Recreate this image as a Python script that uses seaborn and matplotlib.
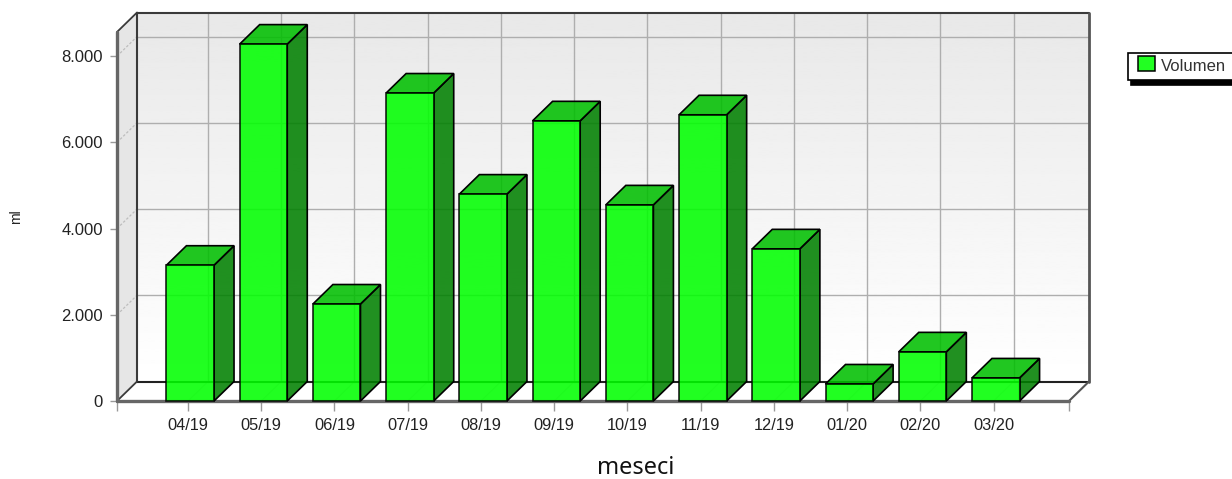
import numpy as np
import pandas as pd
import matplotlib
matplotlib.use("Agg")
import matplotlib.pyplot as plt
from matplotlib.patches import Polygon, Patch, Rectangle
from matplotlib.legend_handler import HandlerPatch
import seaborn as sns

months = ["04/19", "05/19", "06/19", "07/19", "08/19", "09/19",
          "10/19", "11/19", "12/19", "01/20", "02/20", "03/20"]
volumen = [3150, 8280, 2250, 7145, 4800, 6500, 4550, 6640, 3530, 395, 1140, 535]
y_ticks = [0, 2000, 4000, 6000, 8000]
y_labels = ["0", "2.000", "4.000", "6.000", "8.000"]
series_name = "Volumen"
x_title = "meseci"
y_title = "ml"

W, H = 1232, 479
sns.set_style("white")
plt.rcParams["font.family"] = ["Liberation Sans", "DejaVu Sans"]

fig = plt.figure(figsize=(W / 100, H / 100), dpi=100)
L, R, T, B = 117, 1069, 32, 401
ax = fig.add_axes([L / W, 1 - B / H, (R - L) / W, (B - T) / H])

df = pd.DataFrame({"mes": months, "v": volumen})
sns.barplot(data=df, x="mes", y="v", ax=ax, color="#00ff00", saturation=1,
            alpha=0.87, edgecolor="black", linewidth=1.2, width=0.65)

XMIN, XMAX = -1.0, 12.0
YMAX = 8561.0
ax.set_xlim(XMIN, XMAX)
ax.set_ylim(0, YMAX)
DX = 20 * (XMAX - XMIN) / (R - L)
DY = 19.5 * YMAX / (B - T)
TICK_SHIFT = -0.03

# back wall gradient
grad = np.linspace(232, 255, 256).reshape(-1, 1)
ax.imshow(grad, cmap="gray", vmin=0, vmax=255, aspect="auto", origin="upper",
          extent=(XMIN + DX, XMAX + DX, DY, YMAX + DY), zorder=0.1, clip_on=False)
ax.set_xlim(XMIN, XMAX)
ax.set_ylim(0, YMAX)

# left wall and floor
ax.add_patch(Polygon([(XMIN, 0), (XMIN, YMAX), (XMIN + DX, YMAX + DY), (XMIN + DX, DY)],
                     closed=True, fc="#e6e6e6", ec="none", zorder=0.2, clip_on=False))
ax.add_patch(Polygon([(XMIN, 0), (XMAX, 0), (XMAX + DX, DY), (XMIN + DX, DY)],
                     closed=True, fc="white", ec="none", zorder=0.2, clip_on=False))

# grid on the back wall, floor and left wall
grid = "#aeaeae"
for t in y_ticks[1:]:
    ax.plot([XMIN + DX, XMAX + DX], [t + DY, t + DY], color=grid, lw=1.0, zorder=0.5, clip_on=False)
    ax.plot([XMIN, XMIN + DX], [t, t + DY], color="#bdbdbd", lw=0.9, ls=(0, (2, 1.5)), zorder=0.5, clip_on=False)
for t in np.arange(0, 12) + TICK_SHIFT:
    ax.plot([t + DX, t + DX], [DY, YMAX + DY], color=grid, lw=1.0, zorder=0.5, clip_on=False)
    ax.plot([t, t + DX], [0, DY], color="#e2e2e2", lw=0.8, zorder=0.5, clip_on=False)

# frame
dark = "#3a3a3a"
ax.plot([XMIN + DX, XMAX + DX], [YMAX + DY] * 2, color=dark, lw=1.5, zorder=0.8, clip_on=False)
ax.plot([XMIN + DX, XMIN + DX], [DY, YMAX + DY], color=dark, lw=1.5, zorder=0.8, clip_on=False)
ax.plot([XMIN + DX, XMAX + DX], [DY, DY], color="#222222", lw=1.5, zorder=0.8, clip_on=False)
ax.plot([XMAX + DX, XMAX + DX], [DY, YMAX + DY], color="#555555", lw=2, zorder=0.8, clip_on=False)
ax.plot([XMIN, XMIN + DX], [YMAX, YMAX + DY], color=dark, lw=1.3, zorder=0.8, clip_on=False)
ax.plot([XMIN, XMIN + DX], [0, DY], color=dark, lw=1.3, zorder=0.8, clip_on=False)
ax.plot([XMAX, XMAX + DX], [0, DY], color="#555555", lw=1.5, zorder=0.8, clip_on=False)
ax.plot([XMIN, XMIN], [0, YMAX], color="#666666", lw=2.4, zorder=0.9, clip_on=False)
ax.plot([XMIN, XMAX], [0, 0], color="#666666", lw=2.4, zorder=0.9, clip_on=False)

# 3D faces from the bars seaborn drew
for i, bar in enumerate([p for p in ax.patches if isinstance(p, Rectangle)]):
    x0, w, h = bar.get_x(), bar.get_width(), bar.get_height()
    x1 = x0 + w
    z = 2 + i * 0.01
    ax.add_patch(Polygon([(x1, 0), (x1 + DX, DY), (x1 + DX, h + DY), (x1, h)], closed=True,
                         fc=(0, 0.5, 0, 0.87), ec="black", lw=1.2, zorder=z, clip_on=False))
    ax.add_patch(Polygon([(x0, h), (x0 + DX, h + DY), (x1 + DX, h + DY), (x1, h)], closed=True,
                         fc=(0, 0.75, 0, 0.87), ec="black", lw=1.2, zorder=z, clip_on=False))
    bar.set_zorder(z + 0.001)
    bar.set_clip_on(False)

# axes
for s in ax.spines.values():
    s.set_visible(False)
ax.set_xticks(np.concatenate(([XMIN], np.arange(0, 12) + TICK_SHIFT, [XMAX])))
ax.set_xticklabels([""] + months + [""])
ax.set_yticks(y_ticks)
ax.set_yticklabels(y_labels)
ax.tick_params(axis="x", length=7, width=1, color="#999999", labelsize=11.8, labelcolor="#222222", pad=5, bottom=True)
ax.tick_params(axis="y", length=5, width=1, color="#999999", labelsize=12, labelcolor="#222222", pad=5, left=True)
ax.set_xlabel(x_title, family="Noto Sans", fontsize=17, color="#111111")
ax.set_ylabel(y_title, fontsize=10, color="#222222")
ax.yaxis.set_label_coords((23 - L) / (R - L), 0.5)
ax.xaxis.set_label_coords((636 - L) / (R - L), (B - 456) / (B - T), transform=ax.transAxes)


def legend_swatch(legend, orig_handle, xdescent, ydescent, width, height, fontsize):
    return Rectangle((width - 12.2, 0), 12.2, 10.8)


lx, ly = 1128 / W, 1 - 80 / H
leg = ax.legend(handles=[Patch(fc="#22ff22", ec="black", lw=1.1, label=series_name)],
                loc="lower left", mode="expand", ncols=1,
                bbox_to_anchor=(lx, ly, 120 / W, 26 / H), bbox_transform=fig.transFigure,
                handler_map={Patch: HandlerPatch(patch_func=legend_swatch)},
                frameon=True, fancybox=False, shadow={"color": "black", "alpha": 1, "ox": 2.5, "oy": -3.5},
                edgecolor="black", framealpha=1, fontsize=12, handlelength=1.25, handleheight=0.8,
                handletextpad=0.36, borderpad=0.36, borderaxespad=0)
leg.get_frame().set_linewidth(1.2)
for txt in leg.get_texts():
    txt.set_color("#333333")

fig.savefig("out.png", dpi=100)
